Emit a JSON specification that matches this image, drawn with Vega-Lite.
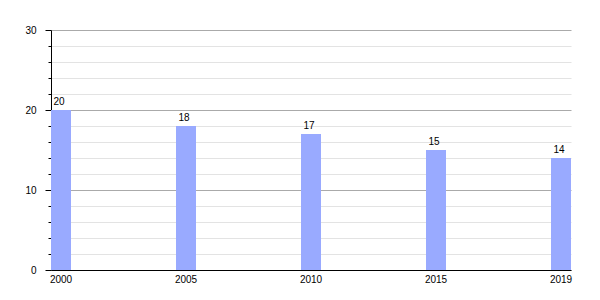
{
  "$schema": "https://vega.github.io/schema/vega-lite/v6.json",
  "width": 520,
  "height": 240,
  "autosize": {"type": "none"},
  "padding": {"left": 51, "top": 30, "right": 29, "bottom": 30},
  "background": "white",
  "config": {
    "view": {"stroke": null},
    "font": "Liberation Sans"
  },
  "data": {
    "values": [
      {"year": "2000", "value": 20},
      {"year": "2005", "value": 18},
      {"year": "2010", "value": 17},
      {"year": "2015", "value": 15},
      {"year": "2019", "value": 14}
    ]
  },
  "encoding": {
    "x": {
      "field": "year",
      "type": "nominal",
      "sort": null,
      "scale": {"paddingInner": 0.84, "paddingOuter": 0, "align": 0.5},
      "axis": {
        "title": null,
        "labelAngle": 0,
        "ticks": false,
        "domainColor": "#000000",
        "domainWidth": 1,
        "labelFontSize": 10,
        "labelColor": "#000000",
        "labelPadding": 4,
        "labelDx": -2
      }
    }
  },
  "layer": [
    {
      "mark": {"type": "bar", "color": "#99aaff"},
      "encoding": {
        "y": {
          "field": "value",
          "type": "quantitative",
          "scale": {"domain": [0, 30], "nice": false},
          "axis": {
            "orient": "left",
            "title": null,
            "values": [2, 4, 6, 8, 12, 14, 16, 18, 22, 24, 26, 28],
            "labels": false,
            "domain": false,
            "tickSize": 3,
            "tickColor": "#000000",
            "grid": true,
            "gridColor": "#e3e3e3",
            "gridWidth": 1
          }
        }
      }
    },
    {
      "mark": {"type": "text", "dy": -5, "dx": -2, "baseline": "alphabetic", "fontSize": 10, "color": "#000000"},
      "encoding": {
        "y": {
          "field": "value",
          "type": "quantitative",
          "scale": {"domain": [0, 30], "nice": false},
          "axis": {
            "orient": "left",
            "title": null,
            "values": [0, 10, 20, 30],
            "labelFontSize": 10,
            "labelColor": "#000000",
            "labelPadding": 9,
            "labelDy": 1,
            "domain": true,
            "domainColor": "#000000",
            "tickSize": 6,
            "tickColor": "#000000",
            "grid": true,
            "gridColor": "#aaaaaa",
            "gridWidth": 1
          }
        },
        "text": {"field": "value", "type": "quantitative"}
      }
    }
  ],
  "resolve": {"axis": {"y": "independent"}}
}
